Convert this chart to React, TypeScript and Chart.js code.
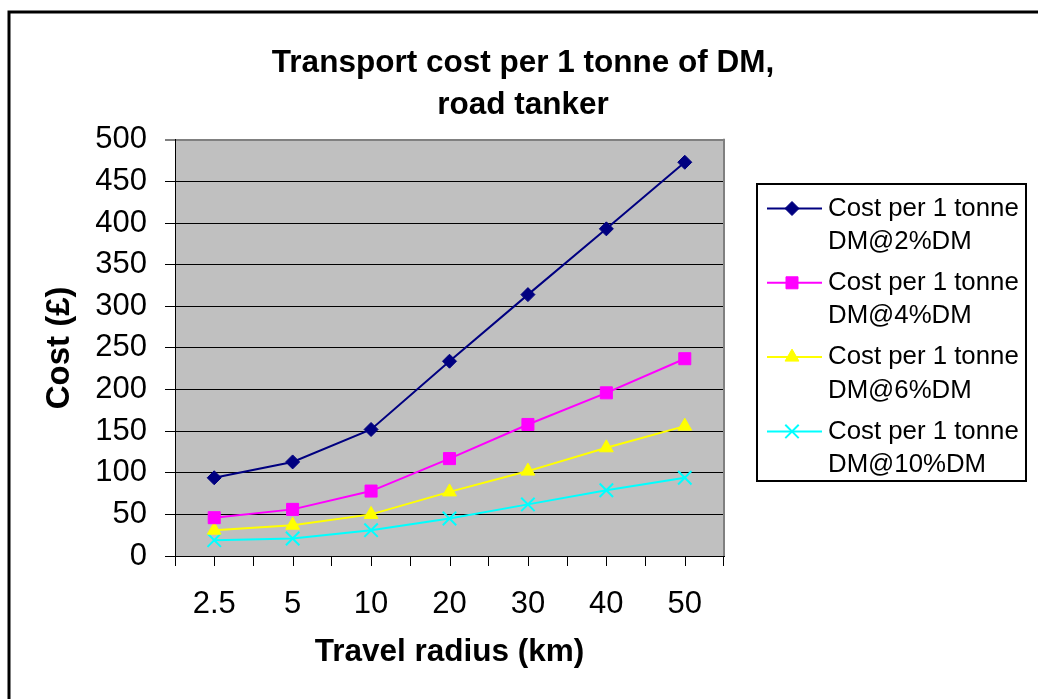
import React, { useEffect, useRef } from 'react';
import { Chart, registerables } from 'chart.js';
import { drawPoint } from 'chart.js/helpers';

Chart.register(...registerables);

// Travel radius categories (km)
const radiusLabels = ['2.5', '5', '10', '20', '30', '40', '50'];

// Cost per tonne of dry matter (£) for each slurry dry-matter content
const cost2pct = [94, 113, 152, 234, 314, 393, 473];
const cost4pct = [46, 56, 78, 117, 158, 196, 237];
const cost6pct = [31, 37, 50, 77, 102, 130, 156];
const cost10pct = [19, 21, 31, 45, 62, 79, 94];

const seriesNames = [
  'Cost per 1 tonne DM@2%DM',
  'Cost per 1 tonne DM@4%DM',
  'Cost per 1 tonne DM@6%DM',
  'Cost per 1 tonne DM@10%DM',
];

const costMin = 0;
const costMax = 500;
const costStep = 50;

const titleLines = ['Transport cost per 1 tonne of DM,', 'road tanker'];
const xTitle = 'Travel radius (km)';
const yTitle = 'Cost (£)';

const FONT = '"Liberation Sans", Arial, Helvetica, sans-serif';
const PLOT_BG = '#C0C0C0';
const PLOT_EDGE = '#808080';

// White page, heavy outer frame and grey plot background
const framePlugin = {
  id: 'frame',
  beforeDraw(chart: any) {
    const { ctx, chartArea, width, height } = chart;
    ctx.save();
    ctx.fillStyle = '#ffffff';
    ctx.fillRect(0, 0, width, height);
    ctx.strokeStyle = '#000000';
    ctx.lineWidth = 3;
    ctx.strokeRect(9, 12, width + 40, height + 40);
    ctx.fillStyle = PLOT_BG;
    ctx.fillRect(chartArea.left, chartArea.top, chartArea.right - chartArea.left, chartArea.bottom - chartArea.top);
    ctx.restore();
  },
  beforeDatasetsDraw(chart: any) {
    const { ctx, chartArea } = chart;
    ctx.save();
    ctx.strokeStyle = PLOT_EDGE;
    ctx.lineWidth = 2;
    ctx.beginPath();
    ctx.moveTo(chartArea.right, chartArea.top - 1);
    ctx.lineTo(chartArea.right, chartArea.bottom);
    ctx.stroke();
    ctx.restore();
  },
  afterDraw(chart: any) {
    // extra tick marks under each category centre
    const { ctx, chartArea } = chart;
    const xs = chart.scales.x;
    ctx.save();
    ctx.strokeStyle = '#000000';
    ctx.lineWidth = 1;
    ctx.beginPath();
    for (let i = 0; i < xs.ticks.length; i++) {
      const px = Math.round(xs.getPixelForTick(i)) + 0.5;
      ctx.moveTo(px, chartArea.bottom);
      ctx.lineTo(px, chartArea.bottom + 10);
    }
    ctx.stroke();
    ctx.restore();
  },
};

// Boxed legend with wrapped two-line entries
const boxLegendPlugin = {
  id: 'boxLegend',
  afterDraw(chart: any) {
    const { ctx } = chart;
    const box = { left: 757, top: 184, right: 1026, bottom: 481 };
    ctx.save();
    ctx.strokeStyle = '#000000';
    ctx.lineWidth = 2;
    ctx.strokeRect(box.left, box.top, box.right - box.left, box.bottom - box.top);

    ctx.font = `25.8px ${FONT}`;
    ctx.textAlign = 'left';
    ctx.textBaseline = 'middle';
    const maxTextWidth = 196;
    chart.data.datasets.forEach((ds: any, i: number) => {
      const y = 208.5 + i * 74.3;
      ctx.strokeStyle = ds.borderColor;
      ctx.lineWidth = 2;
      ctx.beginPath();
      ctx.moveTo(767, y);
      ctx.lineTo(822, y);
      ctx.stroke();

      ctx.fillStyle = ds.pointBackgroundColor;
      ctx.strokeStyle = ds.pointBorderColor;
      ctx.lineWidth = ds.pointBorderWidth;
      drawPoint(ctx, {
        pointStyle: ds.pointStyle,
        radius: ds.pointRadius,
        borderWidth: ds.pointBorderWidth,
        rotation: 0,
      }, 792, y);

      // word wrap the series name
      const words = String(ds.label).split(' ');
      const lines: string[] = [];
      let cur = '';
      words.forEach((w) => {
        const test = cur ? cur + ' ' + w : w;
        if (ctx.measureText(test).width > maxTextWidth && cur) {
          lines.push(cur);
          cur = w;
        } else {
          cur = test;
        }
      });
      if (cur) lines.push(cur);
      ctx.fillStyle = '#000000';
      lines.forEach((ln, k) => ctx.fillText(ln, 828, y + k * 33.5));
    });
    ctx.restore();
  },
};

function makeSeries(label: string, data: number[], color: string, style: string, radius: number, pbw: number) {
  return {
    label,
    data,
    borderColor: color,
    backgroundColor: color,
    borderWidth: 2,
    tension: 0,
    pointStyle: style,
    pointRadius: radius,
    pointHoverRadius: radius,
    pointBackgroundColor: color,
    pointBorderColor: color,
    pointBorderWidth: pbw,
  };
}

export default function App() {
  const canvasRef = useRef<HTMLCanvasElement | null>(null);

  useEffect(() => {
    if (!canvasRef.current) return;
    const chart = new Chart(canvasRef.current, {
      type: 'line',
      data: {
        labels: radiusLabels,
        datasets: [
          makeSeries(seriesNames[0], cost2pct, '#000080', 'rectRot', 7, 1),
          makeSeries(seriesNames[1], cost4pct, '#FF00FF', 'rect', 8.5, 1),
          makeSeries(seriesNames[2], cost6pct, '#FFFF00', 'triangle', 8, 1),
          makeSeries(seriesNames[3], cost10pct, '#00FFFF', 'crossRot', 9.5, 2),
        ] as any,
      },
      options: {
        responsive: false,
        animation: false,
        devicePixelRatio: 1,
        layout: { padding: { left: 40, right: 32, top: 20, bottom: 0 } },
        plugins: {
          legend: { display: false },
          tooltip: { enabled: false },
          title: {
            display: true,
            text: titleLines,
            color: '#000000',
            font: { family: FONT, size: 31.5, weight: 'bold', lineHeight: 1.314 },
            padding: { top: 23, bottom: 14 },
          },
        },
        scales: {
          x: {
            type: 'category',
            offset: true,
            grid: {
              display: true,
              offset: true,
              drawOnChartArea: false,
              drawTicks: true,
              tickLength: 10,
              color: '#000000',
              lineWidth: 1,
            },
            border: { display: true, color: '#000000', width: 1 },
            ticks: {
              color: '#000000',
              font: { family: FONT, size: 31 },
              padding: 20,
              maxRotation: 0,
              autoSkip: false,
            },
            title: {
              display: true,
              text: xTitle,
              color: '#000000',
              font: { family: FONT, size: 31.5, weight: 'bold' },
              padding: { top: 0, bottom: 28 },
            },
            afterFit: (s: any) => { s.height = 143; },
          },
          y: {
            type: 'linear',
            min: costMin,
            max: costMax,
            ticks: {
              stepSize: costStep,
              color: '#000000',
              font: { family: FONT, size: 31 },
              padding: 18,
            },
            grid: {
              color: (c: any) => (c.tick && c.tick.value === costMax ? PLOT_EDGE : '#000000'),
              lineWidth: (c: any) => (c.tick && c.tick.value === costMax ? 2 : 1),
              tickColor: '#000000',
              tickWidth: 1,
              tickLength: 10,
            },
            border: { display: true, color: '#000000', width: 1 },
            title: {
              display: true,
              text: yTitle,
              color: '#000000',
              font: { family: FONT, size: 33, weight: 'bold' },
              padding: { top: 0, bottom: 0 },
            },
            afterFit: (s: any) => { s.width = 135; },
          },
          legendSpace: {
            type: 'linear',
            position: 'right',
            display: true,
            grid: { display: false },
            border: { display: false },
            ticks: { display: false },
            afterFit: (s: any) => { s.width = 282; },
          },
        },
      } as any,
      plugins: [framePlugin, boxLegendPlugin],
    });
    return () => chart.destroy();
  }, []);

  return (
    <div style={{ position: 'absolute', left: 0, top: 0, width: 1038, height: 699, background: '#ffffff' }}>
      <canvas ref={canvasRef} width={1038} height={699} style={{ display: 'block' }} />
    </div>
  );
}
